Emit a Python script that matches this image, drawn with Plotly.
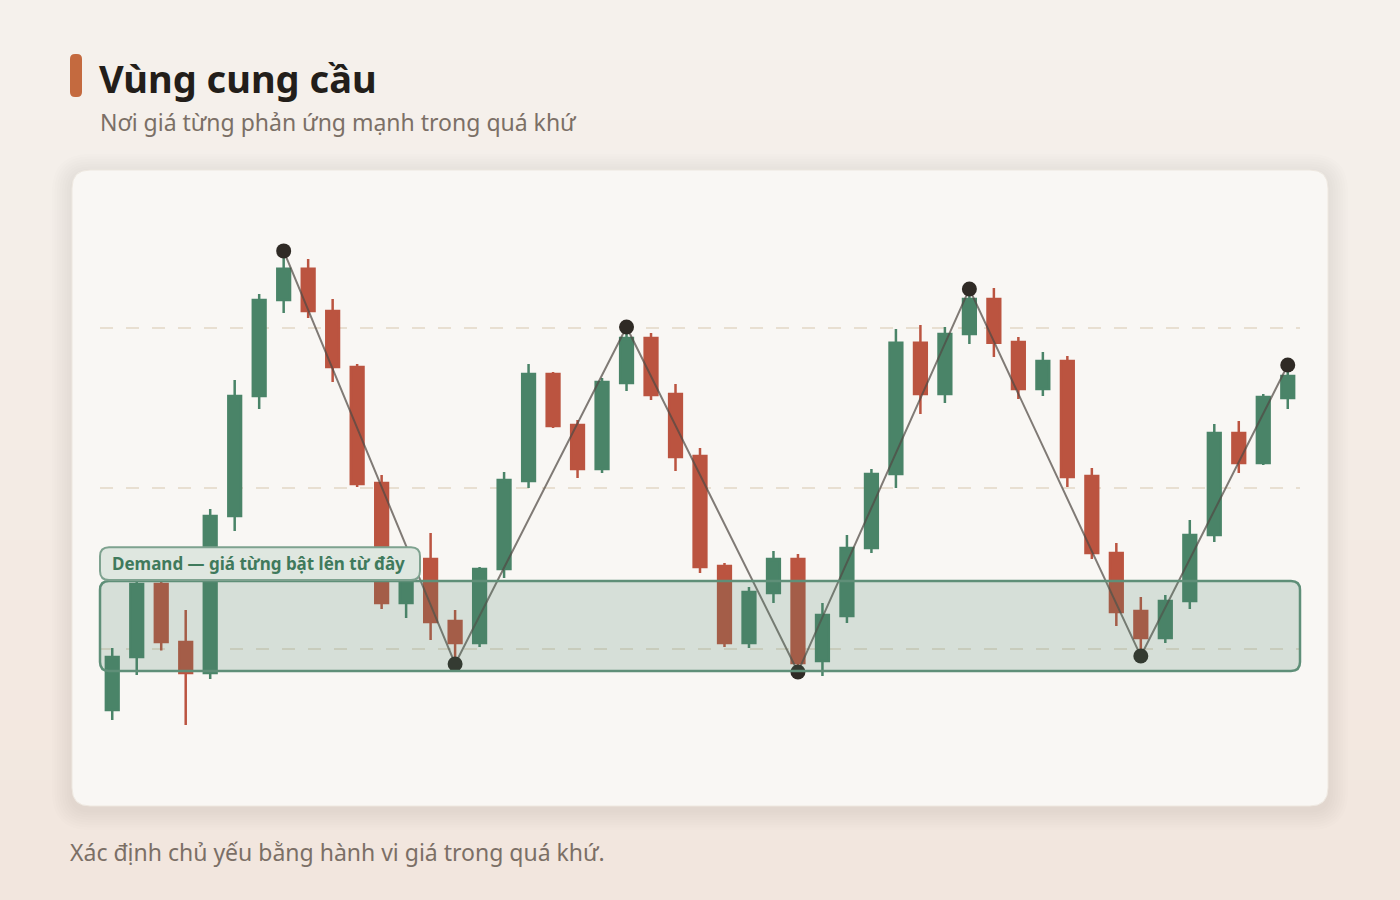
import plotly.graph_objects as go

# ---------------- data ----------------
candle_x = list(range(49))
opens = [96.20, 99.50, 104.05, 100.44, 98.50, 108.29, 115.76, 121.74, 123.68, 121.06,
         117.57, 110.34, 102.87, 105.61, 101.74, 100.37, 104.98, 110.47, 117.13, 113.96,
         111.21, 116.57, 119.38, 115.89, 112.02, 105.17, 100.37, 103.49, 105.61, 99.25,
         102.06, 106.29, 110.90, 119.07, 115.89, 119.63, 121.81, 119.13, 116.20, 117.94,
         110.78, 105.98, 102.37, 100.69, 102.99, 107.10, 113.46, 111.59, 115.64]
highs = [100.06, 104.30, 104.17, 102.43, 108.72, 116.76, 122.12, 124.36, 124.30, 121.81,
         117.76, 110.84, 105.80, 107.23, 102.43, 105.11, 111.03, 117.76, 117.26, 114.27,
         116.88, 120.06, 119.69, 116.51, 112.52, 105.36, 103.86, 106.11, 105.92, 102.87,
         107.10, 111.21, 119.94, 120.19, 120.06, 122.43, 122.49, 119.44, 118.50, 118.26,
         111.28, 106.60, 103.24, 103.36, 108.04, 114.02, 114.21, 115.89, 117.69]
lows = [95.58, 98.38, 99.90, 95.26, 98.13, 107.35, 114.95, 120.93, 120.62, 116.64,
        110.09, 102.49, 101.93, 100.56, 99.13, 100.12, 104.42, 110.03, 113.77, 110.65,
        110.97, 116.07, 115.51, 111.09, 104.74, 100.12, 100.06, 102.87, 98.57, 98.32,
        101.62, 105.98, 110.03, 114.64, 115.33, 119.00, 118.19, 115.58, 115.76, 110.09,
        105.61, 101.43, 99.50, 100.37, 102.49, 106.67, 110.97, 111.46, 114.95]
closes = [99.50, 104.05, 100.44, 98.50, 108.29, 115.76, 121.74, 123.68, 121.06, 117.57,
          110.28, 102.87, 105.30, 101.68, 100.37, 104.98, 110.53, 117.13, 113.89, 111.21,
          116.64, 119.38, 115.83, 111.96, 105.11, 100.37, 103.55, 105.61, 99.13, 102.12,
          106.29, 110.90, 119.07, 115.89, 119.63, 121.81, 119.07, 116.20, 117.94, 110.72,
          105.98, 102.31, 100.69, 102.99, 107.10, 113.46, 111.59, 115.70, 117.01]

pivot_idx = [7, 14, 21, 28, 35, 42, 48]
pivot_price = [124.80, 99.07, 120.06, 98.57, 122.43, 99.56, 117.69]

zone_low, zone_high = 98.63, 104.24
grid_levels = [100, 110, 120]
y_range = [91.84, 127.97]
x_range = [-0.5, 48.5]

title_text = "Vùng cung cầu"
subtitle_text = "Nơi giá từng phản ứng mạnh trong quá khứ"
zone_label = "Demand — giá từng bật lên từ đây"
footer_text = "Xác định chủ yếu bằng hành vi giá trong quá khứ."

# ---------------- styling / layout helpers ----------------
GREEN = "#4a8468"
RED = "#bb5440"
FONT = "Noto Sans"

W, H = 1400, 900
ML, MR, MT, MB = 100, 100, 200, 120
PW, PH = W - ML - MR, H - MT - MB


def pxx(x):
    return (x - ML) / PW


def pxy(y):
    return (H - MB - y) / PH


def rpath(x0, x1, y0, y1, rx, ry):
    # rounded rectangle path; y0 bottom, y1 top (target coordinates)
    return (f"M {x0+rx},{y0} L {x1-rx},{y0} Q {x1},{y0} {x1},{y0+ry} "
            f"L {x1},{y1-ry} Q {x1},{y1} {x1-rx},{y1} L {x0+rx},{y1} "
            f"Q {x0},{y1} {x0},{y1-ry} L {x0},{y0+ry} Q {x0},{y0} {x0+rx},{y0} Z")


def pixel_rrect(px0, py0, px1, py1, r):
    # pixel box (top-left, bottom-right) -> paper path
    return rpath(pxx(px0), pxx(px1), pxy(py1), pxy(py0), r / PW, r / PH)


shapes = []

# background gradient bands
top_c = (245, 241, 236)
bot_c = (242, 230, 222)
n_bands = 30
for i in range(n_bands):
    t = i / (n_bands - 1)
    c = tuple(round(top_c[k] + (bot_c[k] - top_c[k]) * t) for k in range(3))
    y0 = i * H / n_bands
    y1 = (i + 1) * H / n_bands + 1
    shapes.append(dict(type="rect", xref="paper", yref="paper", layer="below",
                       x0=pxx(0), x1=pxx(W), y0=pxy(y1), y1=pxy(y0),
                       fillcolor=f"rgb{c}", line=dict(width=0)))

# card shadow
for i in range(8, 0, -1):
    d = i * 2.5
    shapes.append(dict(type="path", xref="paper", yref="paper", layer="below",
                       path=pixel_rrect(72 - d, 170 - d + 4, 1328 + d, 806 + d + 4, 18 + d),
                       fillcolor="rgba(120,95,70,0.011)", line=dict(width=0)))
# card
shapes.append(dict(type="path", xref="paper", yref="paper", layer="below",
                   path=pixel_rrect(72, 170, 1328, 806, 18),
                   fillcolor="#f9f7f4", line=dict(color="#eee8e0", width=1)))

# title accent bar
shapes.append(dict(type="path", xref="paper", yref="paper", layer="above",
                   path=pixel_rrect(70, 54, 82, 97, 5),
                   fillcolor="#c46a3f", line=dict(width=0)))

# demand zone (paper x, data y)
unit_px = PH / (y_range[1] - y_range[0])
shapes.append(dict(type="path", xref="paper", yref="y", layer="above",
                   path=rpath(0.0, 1.0, zone_low, zone_high, 9 / PW, 9 / unit_px),
                   fillcolor="rgba(74,132,104,0.2)",
                   line=dict(color="#5f8f78", width=2.5)))

# zone label box
lab_y0 = zone_high + 0.06
lab_y1 = zone_high + 2.1
shapes.append(dict(type="path", xref="paper", yref="y", layer="above",
                   path=rpath(0.0, 320 / PW, lab_y0, lab_y1, 9 / PW, 9 / unit_px),
                   fillcolor="#dfe7e0",
                   line=dict(color="#7ea28f", width=2)))

fig = go.Figure()

fig.add_trace(go.Candlestick(
    x=candle_x, open=opens, high=highs, low=lows, close=closes,
    increasing=dict(fillcolor=GREEN, line=dict(color=GREEN, width=2.5)),
    decreasing=dict(fillcolor=RED, line=dict(color=RED, width=2.5)),
    whiskerwidth=0, showlegend=False, hoverinfo="skip",
))

pivot_x = [candle_x[i] for i in pivot_idx]
fig.add_trace(go.Scatter(
    x=pivot_x, y=pivot_price, mode="lines",
    line=dict(color="rgba(80,74,68,0.72)", width=2),
    showlegend=False, hoverinfo="skip",
))
fig.add_trace(go.Scatter(
    x=pivot_x, y=pivot_price, mode="markers",
    marker=dict(color="#2f2a25", size=15, line=dict(width=0)),
    showlegend=False, hoverinfo="skip",
))

annotations = [
    dict(text=f"<b>{title_text}</b>", xref="paper", yref="paper", x=pxx(97), y=pxy(78),
         xanchor="left", yanchor="middle", showarrow=False,
         font=dict(family=FONT, size=38, color="#231e1a")),
    dict(text=subtitle_text, xref="paper", yref="paper", x=pxx(98), y=pxy(122),
         xanchor="left", yanchor="middle", showarrow=False,
         font=dict(family=FONT, size=23, color="#7b6f66")),
    dict(text=footer_text, xref="paper", yref="paper", x=pxx(68), y=pxy(852),
         xanchor="left", yanchor="middle", showarrow=False,
         font=dict(family=FONT, size=23, color="#7b6f66")),
    dict(text=f"<b>{zone_label}</b>", xref="paper", yref="y", x=pxx(110),
         y=(lab_y0 + lab_y1) / 2, xanchor="left", yanchor="middle", showarrow=False,
         font=dict(family=FONT, size=17, color="#3f7a5c")),
]

fig.update_layout(
    width=W, height=H,
    margin=dict(l=ML, r=MR, t=MT, b=MB),
    paper_bgcolor="#f4efe9",
    plot_bgcolor="rgba(0,0,0,0)",
    shapes=shapes,
    annotations=annotations,
    boxgap=0.48, boxgroupgap=0,
    xaxis=dict(range=x_range, showgrid=False, zeroline=False, showticklabels=False,
               showline=False, rangeslider=dict(visible=False), fixedrange=True),
    yaxis=dict(range=y_range, tickvals=grid_levels, showticklabels=False,
               showgrid=True, gridcolor="#e8dfd1", gridwidth=2, griddash="13px,13px",
               zeroline=False, showline=False, fixedrange=True),
    hovermode=False,
)

fig.write_html(
    "out.html",
    config={"displayModeBar": False, "staticPlot": True},
    post_script="document.body.style.margin='0';document.body.style.overflow='hidden';",
)
